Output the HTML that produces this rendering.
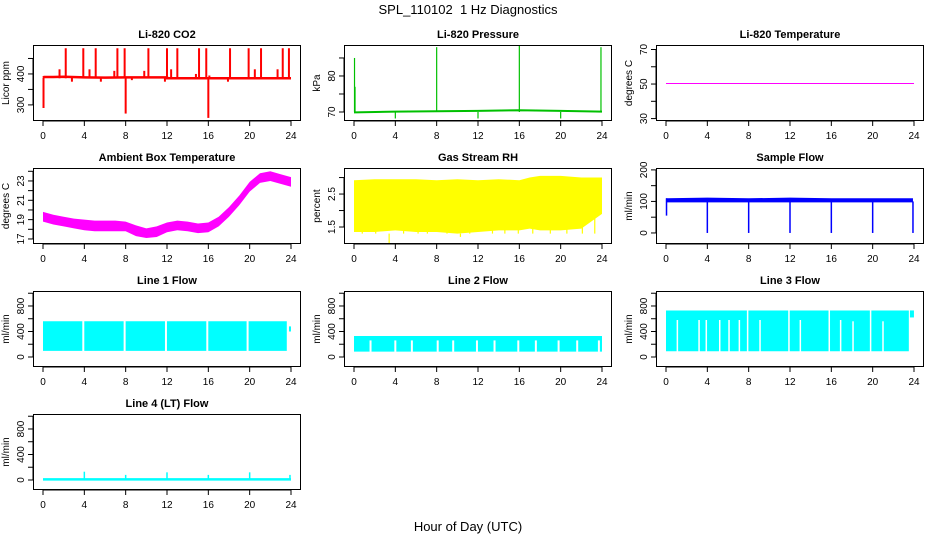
<!DOCTYPE html>
<html><head><meta charset="utf-8"><style>
html,body{margin:0;padding:0;background:#fff;}
svg{display:block;font-family:"Liberation Sans",Arial,sans-serif;}
</style></head><body>
<svg id="c" width="936" height="540" viewBox="0 0 936 540">
<text x="468" y="14" text-anchor="middle" font-size="13">SPL_110102&#160; 1 Hz Diagnostics</text>
<text x="468" y="531" text-anchor="middle" font-size="13">Hour of Day (UTC)</text>
</svg>
<script>
const hoursTicks=[0,4,8,12,16,20,24];
// CO2
const co2BaseX=[0,0.1,1,2,4,6,8,10,12,12.01,14,16,18,20,22,24];
const co2BaseY=[388,390,390,391,389,388,389,389,389,386,386,386,386,386,386,386];
const co2SpikeX=[0.05,2.2,3.9,5.1,7.2,7.9,8.0,10.2,12,13,15.1,15.8,16.0,18.1,19.9,21.1,23.2,23.8,1.6,4.5,6.9,9.8,12.4,14.8,16.1,20.5,22.7,2.8,5.6,8.6,11.8,17.9];
const co2SpikeY=[290,483,483,483,483,483,272,483,483,483,483,483,258,483,483,483,483,483,415,415,410,410,415,400,395,415,415,375,375,380,375,375];
// Pressure
const presBaseX=[0,0.1,4,8,12,16,20,24];
const presBaseY=[69.9,69.9,70.1,70.2,70.3,70.5,70.3,70.1];
const presSpikeX=[0.05,0.1,4,8,12,16,20,23.9];
const presSpikeY=[85,77,68.2,88,68.2,88.5,68.2,88];
// Li-820 temperature
const tempX=[0,24];
const tempY=[50.3,50.3];
// Ambient box temperature
const ambX=[0,1,2,3,4,5,6,7,8,9,10,11,12,13,14,15,16,17,18,19,20,21,22,23,24];
const ambHi=[19.8,19.5,19.3,19.1,19.0,18.9,18.9,18.9,18.8,18.4,18.1,18.3,18.7,18.9,18.8,18.6,18.7,19.3,20.3,21.5,22.9,23.8,24.0,23.7,23.4];
const ambLo=[18.8,18.5,18.3,18.1,17.9,17.8,17.8,17.8,17.8,17.3,17.1,17.2,17.7,17.9,17.8,17.6,17.7,18.3,19.3,20.5,21.9,22.8,23.0,22.7,22.4];
// Gas stream RH
const rhX=[0,2,4,6,8,10,12,14,16,17,18,20,22,24];
const rhHi=[2.92,2.95,2.95,2.95,2.92,2.95,2.92,2.95,2.92,3.0,3.05,3.05,3.0,3.0];
const rhLo=[1.35,1.35,1.4,1.35,1.35,1.3,1.35,1.4,1.4,1.45,1.4,1.4,1.45,1.9];
const rhGapX=[0.8,2.1,3.4,4.8,6.2,7.1,9.0,10.3,11.2,13.4,14.6,15.9,17.3,19.0,20.6,22.1,23.3];
const rhGapY=[2.2,2.1,1.0,2.3,2.0,2.2,2.0,1.2,2.3,2.2,2.0,2.4,2.3,2.2,2.4,2.1,1.9];
// Sample flow
const sfX=[0,0.05,4,8,12,16,20,23.9];
const sfHi=[110,110,112,110,112,110,110,110];
const sfLo=[55,97,97,97,97,96,96,95];
const sfDipX=[4,8,12,16,20,23.9];
const sfDipY=[0,0,0,0,0,0];
// Line flows
const l1Hi=560, l1Lo=95;
const l1GapX=[3.9,7.9,11.9,15.9,19.8,23.7];
const l2Hi=330, l2Lo=85;
const l2GapX=[1.6,4.0,5.6,8.1,9.6,11.9,13.6,15.9,17.6,19.8,21.6,23.7];
const l2GapTop=[260,260,260,260,260,260,260,260,260,260,260,260];
const l3Hi=730, l3Lo=90;
const l3GapX=[1.1,3.2,3.9,5.2,6.1,7.1,7.9,9.1,11.9,13.0,15.8,16.9,18.1,19.8,21.0];
const l3GapTop=[580,580,580,580,580,580,730,580,730,580,730,580,560,730,560];
const l4SpikeX=[4,8,12,16,20,23.9];
const l4SpikeY=[130,80,120,80,120,80];

const NS="http://www.w3.org/2000/svg";
const svg=document.getElementById('c');
function mk(tag,attrs,parent){const e=document.createElementNS(NS,tag);for(const k in attrs)e.setAttribute(k,attrs[k]);(parent||svg).appendChild(e);return e;}
const lefts=[33,344,656], tops=[45,168,291,414], W=268, H=76;

function panel(col,row,name,title,ylab,ylim,yticks,ylabels){
  const L=lefts[col],T=tops[row];
  const g=mk('g',{});
  
  
  const sx=v=>L+10+v*(W-20)/24;
  const sy=v=>T+H-(v-ylim[0])/(ylim[1]-ylim[0])*H;
  const t=mk('text',{x:L+W/2,y:T-7,'text-anchor':'middle','font-size':11,'font-weight':'bold'},g);t.textContent=title;
  
  
  const plot=mk('g',{'clip-path':'url(#clip'+col+row+')'},g);
  const cp=mk('clipPath',{id:'clip'+col+row},g);mk('rect',{x:L,y:T,width:W,height:H},cp);
  
  
  const ax=mk('g',{stroke:'#000','stroke-width':1,fill:'none'},g);
  mk('rect',{x:L+.5,y:T+.5,width:W-1,height:H-1},ax);
  mk('line',{x1:sx(0),x2:sx(24),y1:T+H,y2:T+H},ax);
  hoursTicks.forEach(h=>{mk('line',{x1:sx(h),x2:sx(h),y1:T+H,y2:T+H+5},ax);
    const tl=mk('text',{x:sx(h),y:T+H+18,'text-anchor':'middle','font-size':10},g);tl.textContent=h;
    
    });
  mk('line',{x1:L,x2:L,y1:sy(yticks[0]),y2:sy(yticks[yticks.length-1])},ax);
  yticks.forEach(v=>{mk('line',{x1:L-5,x2:L,y1:sy(v),y2:sy(v)},ax);});
  ylabels.forEach(v=>{const y=sy(v);const tl=mk('text',{x:L-9,y:y,'text-anchor':'middle','font-size':10,transform:`rotate(-90 ${L-9} ${y})`},g);tl.textContent=v;
    
    });
  const yl=mk('text',{x:L-24,y:T+H/2,'text-anchor':'middle','font-size':10,transform:`rotate(-90 ${L-24} ${T+H/2})`},g);yl.textContent=ylab;
  
  
  return {sx,sy,plot};
}
function poly(p,xs,ys,color,w){mk('polyline',{points:xs.map((x,i)=>p.sx(x)+','+p.sy(ys[i])).join(' '),fill:'none',stroke:color,'stroke-width':w},p.plot);}
function band(p,xs,hi,lo,color){const pts=xs.map((x,i)=>p.sx(x)+','+p.sy(hi[i])).concat(xs.slice().reverse().map((x,i)=>p.sx(x)+','+p.sy(lo[xs.length-1-i])));mk('polygon',{points:pts.join(' '),fill:color},p.plot);}
function vline(p,x,y0,y1,color,w){mk('line',{x1:p.sx(x),x2:p.sx(x),y1:p.sy(y0),y2:p.sy(y1),stroke:color,'stroke-width':w},p.plot);}

let p;
p=panel(0,0,'co2','Li-820 CO2','Licor ppm',[248,493.5],[300,350,400,450],[300,400]);
poly(p,co2BaseX,co2BaseY,'#f00',2.5);
co2SpikeX.forEach((x,i)=>vline(p,x,co2BaseY[0]+(co2SpikeY[i]>400?-2:0),co2SpikeY[i],'#f00',2));

p=panel(1,0,'pressure','Li-820 Pressure','kPa',[67.5,88.6],[70,75,80,85],[70,80]);
poly(p,presBaseX,presBaseY,'#00c000',2);
presSpikeX.forEach((x,i)=>vline(p,x,70,presSpikeY[i],'#00c000',1.2));

p=panel(2,0,'li820-temperature','Li-820 Temperature','degrees C',[28.6,72.6],[30,40,50,60,70],[30,50,70]);
poly(p,tempX,tempY,'#f0f',1);

p=panel(0,1,'ambient-temperature','Ambient Box Temperature','degrees C',[16.48,24.34],[17,18,19,20,21,22,23,24],[17,19,21,23]);
band(p,ambX,ambHi,ambLo,'#f0f');

p=panel(1,1,'gas-stream-rh','Gas Stream RH','percent',[0.985,3.29],[1.5,2,2.5,3],[1.5,2.5]);
band(p,rhX,rhHi,rhLo,'#ff0');
rhGapX.forEach((x,i)=>vline(p,x,rhGapY[i],1.3,'#ff0',1.2));

p=panel(2,1,'sample-flow','Sample Flow','ml/min',[-35,206],[0,50,100,150,200],[0,100,200]);
band(p,sfX,sfHi,sfHi.map((v,i)=>97),'#00f');
vline(p,0.05,55,110,'#00f',1.5);
sfDipX.forEach((x,i)=>vline(p,x,100,sfDipY[i],'#00f',1.5));

const flowTicks=[0,200,400,600,800,1000], flowLabels=[0,400,800];
p=panel(0,2,'line-1-flow','Line 1 Flow','ml/min',[-157,1035],flowTicks,flowLabels);
band(p,[0,23.6],[l1Hi,l1Hi],[l1Lo,l1Lo],'#0ff');vline(p,23.9,400,480,'#0ff',2);
l1GapX.forEach(x=>vline(p,x,l1Lo-5,l1Hi+20,'#fff',2));

p=panel(1,2,'line-2-flow','Line 2 Flow','ml/min',[-157,1035],flowTicks,flowLabels);
band(p,[0,24],[l2Hi,l2Hi],[l2Lo,l2Lo],'#0ff');
l2GapX.forEach((x,i)=>vline(p,x,l2Lo-5,l2GapTop[i],'#fff',2));

p=panel(2,2,'line-3-flow','Line 3 Flow','ml/min',[-157,1035],flowTicks,flowLabels);
band(p,[0,23.5],[l3Hi,l3Hi],[l3Lo,l3Lo],'#0ff');vline(p,23.8,620,730,'#0ff',4);
l3GapX.forEach((x,i)=>vline(p,x,l3Lo-5,l3GapTop[i],'#fff',1.5));

p=panel(0,3,'line-4-lt-flow','Line 4 (LT) Flow','ml/min',[-157,1035],flowTicks,flowLabels);
poly(p,[0,24],[10,10],'#0ff',2.5);
l4SpikeX.forEach((x,i)=>vline(p,x,10,l4SpikeY[i],'#0ff',1.5));
</script>
</body></html>
